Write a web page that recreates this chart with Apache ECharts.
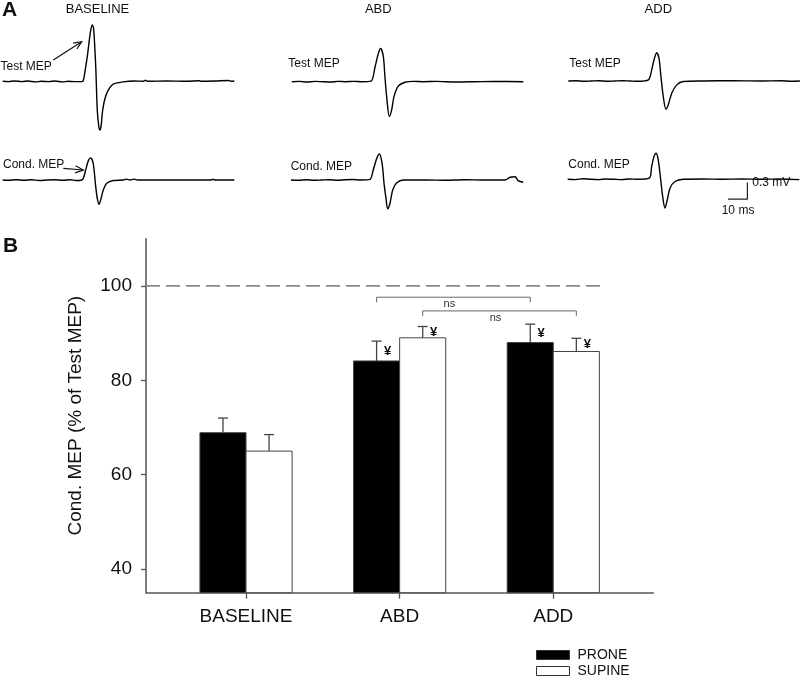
<!DOCTYPE html>
<html><head><meta charset="utf-8">
<script src="https://cdn.jsdelivr.net/npm/echarts@6/dist/echarts.min.js"></script>
<style>html,body{margin:0;padding:0;background:#fff}#c{width:800px;height:679px}</style>
</head><body><div id="c"></div>
<script>
// ---------- Panel B data ----------
const conditions = ['BASELINE', 'ABD', 'ADD'];
const proneMean = [68.9, 84.1, 88.0];
const proneSem = [3.1, 4.2, 3.9];
const supineMean = [65.0, 89.0, 86.1];
const supineSem = [3.5, 2.4, 2.8];
const proneSig = ['', '¥', '¥'];
const supineSig = ['', '¥', '¥'];
const yTicks = [40, 60, 80, 100];
const referenceLevel = 100;
const referenceEnd = 2.34;          // x (category units) where the dashed line stops
const bracketGroup = ['PRONE', 'SUPINE'];
const bracketFrom = [1, 1];
const bracketTo = [2, 2];
const bracketLevel = [97.6, 94.7];
const bracketLabel = ['ns', 'ns'];
const legendNames = ['PRONE', 'SUPINE'];

// ---------- Panel A data: [time ms, amplitude mV] ----------
const baselineTest = [[0,0],[3,-0.005],[6,0.005],[10,-0.005],[13,0.005],[17,-0.01],[20,0],[24,-0.005],[27,0.005],[31,-0.01],[34,0],[37,-0.005],[41,-0.005],[41.8,0.02],[42.6,0.17],[43.8,0.44],[44.9,0.75],[45.6,0.92],[46.4,1.02],[47.1,0.96],[48.2,0.27],[49.0,-0.52],[49.8,-0.82],[50.4,-0.88],[51.0,-0.8],[51.8,-0.52],[53.0,-0.31],[54.7,-0.16],[57.3,-0.05],[62.5,-0.01],[68,0.005],[73,0],[74,0.02],[75,0],[85,0.005],[95,0],[102,0.01],[103,0],[110,0.005],[117,0.015],[118.5,0],[120,0.005]];
const baselineCond = [[0,0],[3,-0.005],[7,0.005],[11,-0.005],[15,0.005],[19,-0.01],[23,0],[27,0.005],[31,-0.005],[35,0.005],[38,-0.01],[41,0],[41.8,0.03],[43.2,0.21],[44.4,0.35],[45.6,0.40],[46.9,0.30],[48.2,-0.12],[49.0,-0.33],[49.9,-0.44],[50.8,-0.36],[52.1,-0.18],[53.9,-0.06],[57.3,-0.01],[62.5,0],[64,0.015],[66,0],[68,0.015],[70,0],[80,0],[95,0],[108,0],[109,0.015],[110,0],[120,0]];
const abdTest = [[0,0],[4,0.005],[8,-0.005],[12,0.005],[16,0],[20,-0.005],[24,0.005],[28,0],[32,0.005],[36,0],[41.1,0.01],[43.2,0.27],[44.9,0.51],[46.1,0.60],[47.5,0.45],[48.3,0.09],[49.2,-0.27],[50.6,-0.63],[51.8,-0.51],[53.0,-0.27],[55.2,-0.08],[58.7,-0.01],[63,0.005],[68,0],[75,0.005],[85,-0.005],[95,0],[105,0.005],[120,0]];
const abdCond = [[0,0],[4,-0.005],[8,0.005],[12,-0.005],[16,0],[20,0.005],[24,-0.005],[28,0.005],[32,0.01],[36,0],[40.9,0.01],[42.6,0.18],[44.4,0.39],[45.8,0.47],[47.2,0.30],[48.2,-0.06],[49.1,-0.30],[50.1,-0.52],[51.3,-0.42],[52.7,-0.18],[54.8,-0.05],[58.2,0],[70,0],[80,-0.005],[90,0.005],[100,0],[110.9,0],[113.5,0.05],[116.1,0.06],[117.7,-0.01],[120.3,-0.04]];
const addTest = [[0,0],[4,0.005],[8,-0.005],[12,0],[16,0.005],[20,-0.005],[24,0],[28,0.005],[32,0],[36,-0.005],[41.5,0.02],[43.2,0.20],[44.4,0.38],[45.8,0.51],[47.0,0.41],[48.0,0.08],[49.2,-0.28],[50.6,-0.51],[51.8,-0.43],[53.6,-0.22],[56.2,-0.07],[59.6,-0.01],[70,0],[85,0.005],[100,0],[110,0.005],[116,-0.005],[120,0]];
const addCond = [[0,0],[4,-0.005],[8,0.01],[12,0],[16,-0.005],[20,0.005],[24,0],[28,-0.005],[32,0.005],[36,0],[42.3,0.02],[43.5,0.23],[44.7,0.41],[45.8,0.47],[46.9,0.35],[48.2,-0.01],[49.2,-0.31],[50.4,-0.52],[51.6,-0.37],[53.0,-0.16],[55.6,-0.04],[59.9,0],[70,0.005],[80,0],[90,0.005],[100,0],[110,0.005],[120,-0.005]];
const traces = [baselineTest, baselineCond, abdTest, abdCond, addTest, addCond];
const scaleBarMs = 10, scaleBarMv = 0.3;
const scaleBarAnchor = [83.1, -0.36];   // time/amplitude in the ADD conditioned trace frame

// ---------- layout (styles / positions) ----------
const FONT = 'Liberation Sans, Arial, sans-serif';
const PX_PER_MS = 1.93, PX_PER_MV = 55.3, TRACE_MS = 120, V_RANGE = 1.2;
const traceBox = [
  {left: 2.7, base: 81.3}, {left: 2.7, base: 180},
  {left: 291.7, base: 81.7}, {left: 291, base: 180},
  {left: 568.3, base: 81}, {left: 567.7, base: 179.3}
];
const X_MIN = -0.651, X_MAX = 2.651, Y_MIN = 35, Y_MAX = 110, BAR_W = 0.3;

const grids = [], xAxes = [], yAxes = [], series = [];
traceBox.forEach((b, i) => {
  grids.push({left: b.left, top: b.base - V_RANGE * PX_PER_MV, width: TRACE_MS * PX_PER_MS, height: 2 * V_RANGE * PX_PER_MV});
  xAxes.push({type: 'value', gridIndex: i, min: 0, max: TRACE_MS, show: false});
  yAxes.push({type: 'value', gridIndex: i, min: -V_RANGE, max: V_RANGE, show: false});
  series.push({type: 'line', xAxisIndex: i, yAxisIndex: i, data: traces[i], showSymbol: false, smooth: 0.3,
    lineStyle: {color: '#000', width: 1.4}, silent: true, animation: false});
});
// scale bar in ADD cond frame
series.push({type: 'line', xAxisIndex: 5, yAxisIndex: 5, showSymbol: false, animation: false, silent: true,
  data: [[scaleBarAnchor[0], scaleBarAnchor[1]], [scaleBarAnchor[0] + scaleBarMs, scaleBarAnchor[1]], [scaleBarAnchor[0] + scaleBarMs, scaleBarAnchor[1] + scaleBarMv]],
  lineStyle: {color: '#222', width: 1.2}});

// Panel B grid
const GB = 6;
grids.push({left: 146, right: 146.7, top: 238.7, bottom: 86.3});
xAxes.push({type: 'value', gridIndex: GB, min: X_MIN, max: X_MAX,
  axisLine: {show: true, onZero: false, lineStyle: {color: '#555', width: 1.5}},
  axisTick: {show: true, customValues: [0, 1, 2], length: 6, lineStyle: {color: '#555', width: 1.3}},
  axisLabel: {show: true, customValues: [0, 1, 2], formatter: v => conditions[Math.round(v)] || '', margin: 15,
    fontFamily: FONT, fontSize: 19, color: '#111'},
  splitLine: {show: false}});
yAxes.push({type: 'value', gridIndex: GB, min: Y_MIN, max: Y_MAX,
  name: 'Cond. MEP (% of Test MEP)', nameLocation: 'middle', nameGap: 61,
  nameTextStyle: {fontFamily: FONT, fontSize: 19, color: '#111'},
  axisLine: {show: true, onZero: false, lineStyle: {color: '#555', width: 1.5}},
  axisTick: {show: true, customValues: yTicks, length: 5, lineStyle: {color: '#555', width: 1.3}},
  axisLabel: {show: true, customValues: yTicks, margin: 14, fontFamily: FONT, fontSize: 19, color: '#111'},
  splitLine: {show: false}});

// dashed reference
series.push({type: 'line', xAxisIndex: GB, yAxisIndex: GB, data: [[X_MIN, referenceLevel], [referenceEnd, referenceLevel]],
  showSymbol: false, silent: true, animation: false, lineStyle: {color: '#8a8a8a', width: 1.6, type: [14, 6]}});

function barSeries(name, means, sems, sigs, side, fill) {
  return {
    type: 'custom', name, xAxisIndex: GB, yAxisIndex: GB, animation: false,
    itemStyle: {color: fill, borderColor: '#333', borderWidth: 1},
    data: means.map((m, i) => [i, m, sems[i]]),
    renderItem(params, api) {
      const i = api.value(0), m = api.value(1), e = api.value(2);
      const sig = sigs[params.dataIndex];
      const x0 = side < 0 ? i - BAR_W : i, x1 = side < 0 ? i : i + BAR_W;
      const tl = api.coord([x0, m]), br = api.coord([x1, Y_MIN]);
      const cx = (tl[0] + br[0]) / 2;
      const pe = api.coord([(x0 + x1) / 2, m + e]);
      const ch = [
        {type: 'line', shape: {x1: cx, y1: tl[1], x2: cx, y2: pe[1]}, style: {stroke: '#444', lineWidth: 1.3}},
        {type: 'line', shape: {x1: cx - 5, y1: pe[1], x2: cx + 5, y2: pe[1]}, style: {stroke: '#444', lineWidth: 1.3}},
        {type: 'rect', shape: {x: tl[0], y: tl[1], width: br[0] - tl[0], height: br[1] - tl[1]}, style: {fill, stroke: '#444', lineWidth: 1}}
      ];
      if (sig) {
        const ps = api.coord([(x0 + x1) / 2, m + e / 2]);
        ch.push({type: 'text', x: cx + 11, y: ps[1], style: {text: sig, fill: '#111', font: 'bold 13px ' + FONT, align: 'center', verticalAlign: 'middle'}});
      }
      return {type: 'group', children: ch};
    }
  };
}
series.push(barSeries('PRONE', proneMean, proneSem, proneSig, -1, '#000'));
series.push(barSeries('SUPINE', supineMean, supineSem, supineSig, 1, '#fff'));

// significance brackets
series.push({
  type: 'custom', xAxisIndex: GB, yAxisIndex: GB, animation: false, silent: true,
  data: bracketLevel.map((lv, k) => [bracketFrom[k], bracketTo[k], lv]),
  renderItem(params, api) {
    const k = params.dataIndex;
    const off = bracketGroup[k] === 'PRONE' ? -BAR_W / 2 : BAR_W / 2;
    const lv = api.value(2);
    const a = api.coord([api.value(0) + off, lv]), b = api.coord([api.value(1) + off, lv]);
    return {type: 'group', children: [
      {type: 'polyline', shape: {points: [[a[0], a[1] + 5], [a[0], a[1]], [b[0], b[1]], [b[0], b[1] + 5]]}, style: {stroke: '#666', lineWidth: 1, fill: null}},
      {type: 'text', x: (a[0] + b[0]) / 2 - 4, y: a[1] + 7, style: {text: bracketLabel[k], fill: '#333', font: '11px ' + FONT, align: 'center', verticalAlign: 'middle'}}
    ]};
  }
});

// ---------- graphics for panel A text ----------
function txt(text, x, y, size, opt) {
  return {type: 'text', x, y, style: {text, fill: '#111', font: (opt && opt.bold ? 'bold ' : '') + size + 'px ' + FONT,
    align: (opt && opt.align) || 'left', verticalAlign: 'middle'}};
}
function arrow(x1, y1, x2, y2) {
  const dx = x2 - x1, dy = y2 - y1, L = Math.hypot(dx, dy), ux = dx / L, uy = dy / L;
  const bx = x2 - 8 * ux, by = y2 - 8 * uy, nx = -uy * 3.5, ny = ux * 3.5;
  return [
    {type: 'line', shape: {x1, y1, x2, y2}, style: {stroke: '#111', lineWidth: 1.2}},
    {type: 'polyline', shape: {points: [[bx + nx, by + ny], [x2, y2], [bx - nx, by - ny]]}, style: {stroke: '#111', lineWidth: 1.2, fill: null}}
  ];
}
const graphics = [
  txt('A', 2, 10, 21, {bold: true}),
  txt('B', 3, 246, 21, {bold: true}),
  txt('BASELINE', 97.5, 9, 13, {align: 'center'}),
  txt('ABD', 378.3, 9, 13, {align: 'center'}),
  txt('ADD', 658.3, 9, 13, {align: 'center'}),
  txt('Test MEP', 0.5, 67, 12),
  txt('Cond. MEP', 3, 164.5, 12),
  txt('Test MEP', 288.3, 63.5, 12),
  txt('Cond. MEP', 290.7, 166.5, 12),
  txt('Test MEP', 569.3, 63.5, 12),
  txt('Cond. MEP', 568.3, 165, 12),
  txt('0.3 mV', 752.3, 183, 12),
  txt('10 ms', 721.7, 211, 12),
  ...arrow(53.3, 60, 81.7, 41.7),
  ...arrow(63.3, 168.3, 83.3, 170)
];

const legendStyle = {itemWidth: 33, itemHeight: 9, itemGap: 4, textStyle: {fontFamily: FONT, fontSize: 14, color: '#111', padding: [0, 0, 0, 3]}, selectedMode: false, left: 531};
const chart = echarts.init(document.getElementById('c'), null, {renderer: 'canvas'});
chart.setOption({
  animation: false,
  backgroundColor: '#fff',
  textStyle: {fontFamily: FONT},
  grid: grids, xAxis: xAxes, yAxis: yAxes, series,
  legend: [
    Object.assign({top: 643, data: [{name: legendNames[0], icon: 'rect', itemStyle: {color: '#000', borderColor: '#333', borderWidth: 1}}]}, legendStyle),
    Object.assign({top: 659, data: [{name: legendNames[1], icon: 'rect', itemStyle: {color: '#fff', borderColor: '#333', borderWidth: 1}}]}, legendStyle)
  ],
  graphic: graphics
});
</script></body></html>
